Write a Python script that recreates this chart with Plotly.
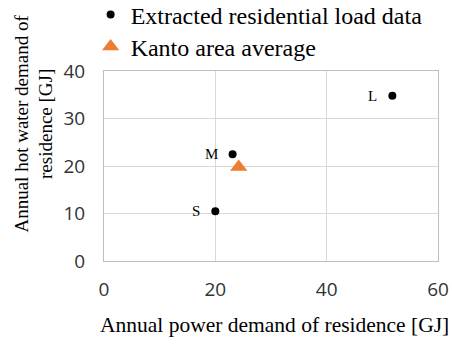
import plotly.graph_objects as go

# Data
case_labels = ["S", "M", "L"]
power_demand = [20.0, 23.1, 51.8]
hot_water_demand = [10.5, 22.5, 34.8]
kanto_power = [24.2]
kanto_hot_water = [19.8]
x_ticks = [0, 20, 40, 60]
y_ticks = [0, 10, 20, 30, 40]
x_title = "Annual power demand of residence [GJ]"
y_title = "Annual hot water demand of<br>residence [GJ]"

serif = "Liberation Serif, Times New Roman, serif"
sans = "Open Sans, sans-serif"

fig = go.Figure()
fig.add_trace(go.Scatter(
    x=power_demand, y=hot_water_demand, mode="markers",
    name="Extracted residential load data", legend="legend",
    marker=dict(color="black", size=8, symbol="circle"),
))
fig.add_trace(go.Scatter(
    x=kanto_power, y=kanto_hot_water, mode="markers",
    name="Kanto area average", legend="legend2",
    marker=dict(color="#ED7D31", size=15, symbol="triangle-up"),
))

for lab, xv, yv in zip(case_labels, power_demand, hot_water_demand):
    fig.add_annotation(x=xv, y=yv, text=lab, showarrow=False,
                       xanchor="right", yanchor="middle", xshift=-13,
                       font=dict(family=serif, size=15, color="black"))

# axis titles as annotations for exact placement
fig.add_annotation(xref="paper", yref="paper", x=0.51, y=-0.335, text=x_title,
                   showarrow=False, xanchor="center", yanchor="middle",
                   font=dict(family=serif, size=21.5, color="black"))
fig.add_annotation(xref="paper", yref="paper", x=-0.211, y=0.721, text=y_title,
                   showarrow=False, xanchor="center", yanchor="middle", textangle=-90,
                   font=dict(family=serif, size=19, color="black"))

leg_common = dict(xanchor="left", yanchor="middle",
                  font=dict(family=serif, size=24, color="black"),
                  bgcolor="rgba(0,0,0,0)", itemwidth=30)

fig.update_layout(
    width=452, height=344,
    margin=dict(l=104, r=14, t=71, b=83, autoexpand=False),
    paper_bgcolor="white", plot_bgcolor="white",
    showlegend=True,
    legend=dict(x=-0.04, y=1 + (71 - 15) / 190, **leg_common),
    legend2=dict(x=-0.04, y=1 + (71 - 47) / 190, **leg_common),
    xaxis=dict(range=[0, 60], tickvals=x_ticks, showgrid=True, gridcolor="#D9D9D9",
               zeroline=False, showline=True, linecolor="#BFBFBF", mirror=True,
               tickfont=dict(family=sans, size=19, color="#333"),
               ticklabelstandoff=11),
    yaxis=dict(range=[0, 40], tickvals=y_ticks, showgrid=True, gridcolor="#D9D9D9",
               zeroline=False, showline=True, linecolor="#BFBFBF", mirror=True,
               tickfont=dict(family=sans, size=19, color="#333"),
               ticklabelstandoff=14),
)

fig.write_html("out.html")
